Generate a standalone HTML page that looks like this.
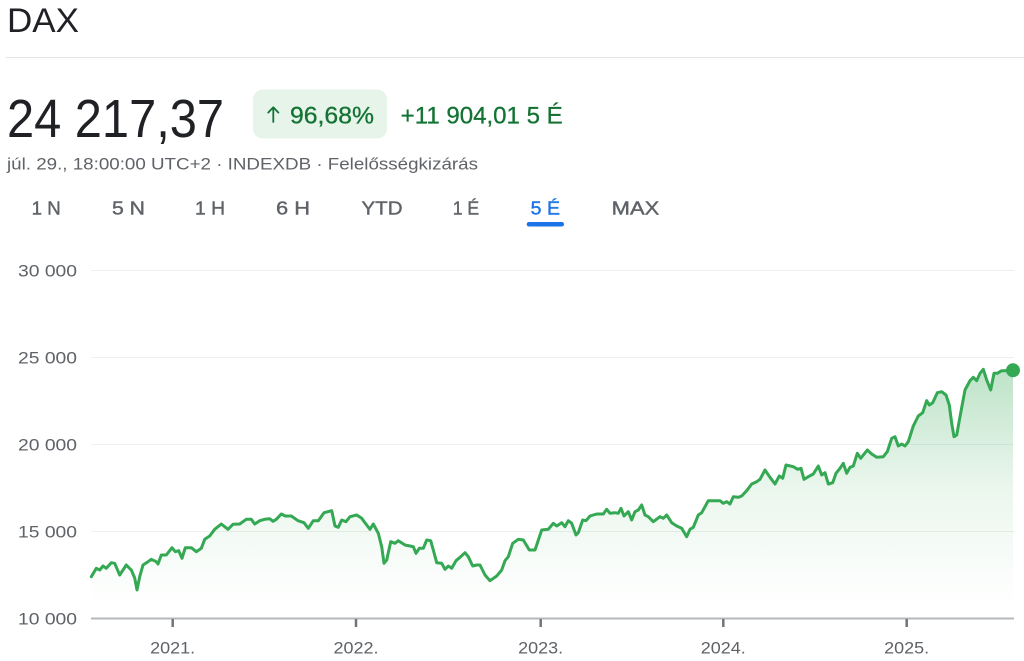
<!DOCTYPE html>
<html>
<head>
<meta charset="utf-8">
<style>
  html,body{margin:0;padding:0;background:#fff;}
  body{width:1024px;height:661px;overflow:hidden;}
  svg{display:block;font-family:"Liberation Sans","DejaVu Sans",sans-serif;}
</style>
</head>
<body>
<svg width="1024" height="661" viewBox="0 0 1024 661" xmlns="http://www.w3.org/2000/svg">
  <defs>
    <linearGradient id="fillg" x1="0" y1="370" x2="0" y2="605" gradientUnits="userSpaceOnUse">
      <stop offset="0" stop-color="#34a853" stop-opacity="0.32"/>
      <stop offset="0.5" stop-color="#34a853" stop-opacity="0.1"/>
      <stop offset="1" stop-color="#34a853" stop-opacity="0"/>
    </linearGradient>
  </defs>

  <!-- Header -->
  <text x="7" y="32" font-size="34" fill="#202124" textLength="72" lengthAdjust="spacingAndGlyphs">DAX</text>
  <line x1="6" y1="57.5" x2="1024" y2="57.5" stroke="#e3e5e8" stroke-width="1"/>

  <text x="7" y="137" font-size="54" fill="#202124" textLength="217" lengthAdjust="spacingAndGlyphs">24 217,37</text>

  <rect x="253" y="89.5" width="134" height="49" rx="10" fill="#e6f4ea"/>
  <path d="M273.3,122 V107.5 M268.2,112.6 L273.3,107.3 L278.4,112.6" stroke="#137333" stroke-width="1.8" fill="none" stroke-linecap="round" stroke-linejoin="round"/>
  <text x="290" y="123.3" font-size="24" fill="#137333" stroke="#137333" stroke-width="0.3" textLength="84" lengthAdjust="spacingAndGlyphs">96,68%</text>
  <text x="400.7" y="123.3" font-size="24" fill="#137333" stroke="#137333" stroke-width="0.3" textLength="162" lengthAdjust="spacingAndGlyphs">+11 904,01 5 É</text>

  <text x="7" y="169.3" font-size="17" fill="#5f6368" textLength="471" lengthAdjust="spacingAndGlyphs">júl. 29., 18:00:00 UTC+2 · INDEXDB · Felelősségkizárás</text>

  <!-- Tabs -->
  <g font-size="18.5" fill="#5f6368" stroke="#5f6368" stroke-width="0.4">
    <text x="31.7" y="214.5" textLength="29" lengthAdjust="spacingAndGlyphs">1 N</text>
    <text x="112" y="214.5" textLength="33" lengthAdjust="spacingAndGlyphs">5 N</text>
    <text x="195" y="214.5" textLength="30" lengthAdjust="spacingAndGlyphs">1 H</text>
    <text x="276" y="214.5" textLength="34" lengthAdjust="spacingAndGlyphs">6 H</text>
    <text x="361.5" y="214.5" textLength="41" lengthAdjust="spacingAndGlyphs">YTD</text>
    <text x="452.7" y="214.5" textLength="26.5" lengthAdjust="spacingAndGlyphs">1 É</text>
    <text x="611.7" y="214.5" textLength="47.6" lengthAdjust="spacingAndGlyphs">MAX</text>
  </g>
  <text x="530.7" y="214.5" font-size="18.5" fill="#1a73e8" stroke="#1a73e8" stroke-width="0.4" textLength="29.3" lengthAdjust="spacingAndGlyphs">5 É</text>
  <rect x="526.7" y="222" width="37.3" height="4.5" rx="2.2" fill="#1a73e8"/>

  <!-- Gridlines -->
  <g stroke="#eeeff1" stroke-width="1">
    <line x1="91" y1="270.5" x2="1014" y2="270.5"/>
    <line x1="91" y1="357.5" x2="1014" y2="357.5"/>
    <line x1="91" y1="444.5" x2="1014" y2="444.5"/>
    <line x1="91" y1="531.5" x2="1014" y2="531.5"/>
  </g>

  <!-- Y labels -->
  <g font-size="16.5" fill="#5f6368">
    <text x="18" y="276.7" textLength="59" lengthAdjust="spacingAndGlyphs">30 000</text>
    <text x="18" y="363.7" textLength="59" lengthAdjust="spacingAndGlyphs">25 000</text>
    <text x="18" y="450.7" textLength="59" lengthAdjust="spacingAndGlyphs">20 000</text>
    <text x="18" y="537.7" textLength="59" lengthAdjust="spacingAndGlyphs">15 000</text>
    <text x="18" y="624.3" textLength="59" lengthAdjust="spacingAndGlyphs">10 000</text>
  </g>

  <!-- Area fill -->
  <path fill="url(#fillg)" stroke="none" d="M91.3,576.7 L96.3,568.3 L99.7,570 L103,566 L106.3,568.3 L111.3,562.7 L114.7,563.3 L119.7,575 L126.3,565 L131.3,570 L134.7,578 L137,590 L139.7,576.7 L143,565 L148,561.7 L151.3,559.3 L156.3,561.7 L158,564 L161.3,555 L166.3,555 L172,547.7 L175.3,551.7 L178.7,550.7 L182,558.3 L185.3,547.7 L191.3,547.7 L196.3,551.7 L201.3,548.3 L204.7,539.3 L209.7,536 L214.7,529.3 L221.3,524 L228,529.3 L233,524.3 L239.7,524 L246.3,519.3 L251.3,519.3 L254.7,524 L259.7,520.7 L264.7,519.3 L269.7,518.7 L273,521.3 L276.3,519.3 L281.3,514 L285.3,516 L291.3,516 L298,520.7 L304,522.7 L308.3,528.3 L313.3,520.7 L318.3,520.7 L324,512.7 L331.7,510.7 L335,526 L338.3,527.3 L341.7,520 L346,521.7 L350,516.7 L356.7,515 L361.7,518.3 L366.7,525 L370,529.3 L373.3,524 L378.3,533.3 L381.7,546.7 L384,563.3 L386.7,560 L390.7,541.7 L395,543.3 L398.3,540.7 L405,545 L410,546 L413.3,546.7 L416,553.3 L419.3,548.3 L423.3,548.3 L426.7,540 L430.7,540.7 L433.3,550 L436.7,562.7 L441.7,563.3 L445,569.3 L448.3,566 L451.7,568.3 L456,560.7 L460,557.3 L465,552.7 L468.3,556.7 L472.7,566 L476.7,565 L480,565 L485,575 L490,580.7 L496.7,576 L501.7,570 L505,560.7 L508.3,556.7 L512.7,543.3 L518.3,539.3 L523.3,540 L529.3,550 L535,550 L541.7,530 L548.3,529.3 L553.3,523.3 L556.7,526 L561.7,522.7 L565,526.7 L568.3,520.7 L571.7,523.3 L576,535 L578.3,532.7 L582.7,520 L586,520.7 L590,516 L596.7,514 L603.3,514 L606.7,509.3 L610,513.3 L615,512.7 L618.3,513.3 L621,508.3 L624,516 L628.3,511.7 L631.7,520 L635,511.7 L638.3,510 L641.7,505 L645,515 L648.3,516.7 L653.3,521.7 L660,516.7 L663.3,518.3 L666.7,515 L671.7,522.7 L676.7,526 L681.7,528.3 L686.7,536.7 L690,529.3 L693.3,527.3 L698.3,515 L701.7,512.7 L708.3,500.7 L715,500.7 L720,500.7 L723.3,503.3 L726.7,501.7 L730,504 L733.3,496.7 L738.3,497.3 L741.7,496 L746.7,490.7 L751.7,484 L756.7,481.7 L760,479.3 L765,470 L770,477.3 L775,484 L779.3,476 L782.7,478.3 L786,465 L793.3,466.7 L797.7,469.3 L801,468.3 L804,479.3 L808.3,476.7 L813.3,474 L818.3,466 L821.7,475 L825,472.7 L828.3,484 L832.7,482.7 L836,473.3 L840,468.3 L843.3,463.3 L846.7,473.3 L850,467.3 L853.3,466 L857.3,453.3 L860.7,458.3 L867.3,450 L871.7,454 L876.7,457.3 L883.3,456.7 L887.3,451.7 L891.7,438.3 L895,436.7 L898.3,446 L901.7,444 L905,446 L908.3,441.7 L913.3,426 L918.3,416 L922.7,412.7 L926.7,400.7 L929.3,405 L932.7,402.7 L937.3,392.7 L941.7,391.7 L946,395 L949.3,405 L951.7,423.3 L954,436.7 L956.7,435 L960,416.7 L965,390 L970,380.7 L973.3,377.3 L976.7,380.7 L980,373.3 L983.3,369.3 L986.7,380 L990.7,390 L994,373.3 L997.3,373.3 L1001.7,370.7 L1005,370.7 L1013,370 L1013,618 L91.3,618 Z"/>

  <!-- Axis -->
  <line x1="91" y1="618.5" x2="1014" y2="618.5" stroke="#b4b8bd" stroke-width="2"/>
  <g stroke="#70757a" stroke-width="2.5">
    <line x1="172.7" y1="619" x2="172.7" y2="627"/>
    <line x1="356" y1="619" x2="356" y2="627"/>
    <line x1="540.7" y1="619" x2="540.7" y2="627"/>
    <line x1="723.3" y1="619" x2="723.3" y2="627"/>
    <line x1="906.7" y1="619" x2="906.7" y2="627"/>
  </g>
  <g font-size="16.5" fill="#5f6368">
    <text x="150.2" y="653.3" textLength="45" lengthAdjust="spacingAndGlyphs">2021.</text>
    <text x="333.5" y="653.3" textLength="45" lengthAdjust="spacingAndGlyphs">2022.</text>
    <text x="518.2" y="653.3" textLength="45" lengthAdjust="spacingAndGlyphs">2023.</text>
    <text x="700.8" y="653.3" textLength="45" lengthAdjust="spacingAndGlyphs">2024.</text>
    <text x="884.2" y="653.3" textLength="45" lengthAdjust="spacingAndGlyphs">2025.</text>
  </g>

  <!-- Line -->
  <path fill="none" stroke="#34a853" stroke-width="3" stroke-linejoin="round" stroke-linecap="round" d="M91.3,576.7 L96.3,568.3 L99.7,570 L103,566 L106.3,568.3 L111.3,562.7 L114.7,563.3 L119.7,575 L126.3,565 L131.3,570 L134.7,578 L137,590 L139.7,576.7 L143,565 L148,561.7 L151.3,559.3 L156.3,561.7 L158,564 L161.3,555 L166.3,555 L172,547.7 L175.3,551.7 L178.7,550.7 L182,558.3 L185.3,547.7 L191.3,547.7 L196.3,551.7 L201.3,548.3 L204.7,539.3 L209.7,536 L214.7,529.3 L221.3,524 L228,529.3 L233,524.3 L239.7,524 L246.3,519.3 L251.3,519.3 L254.7,524 L259.7,520.7 L264.7,519.3 L269.7,518.7 L273,521.3 L276.3,519.3 L281.3,514 L285.3,516 L291.3,516 L298,520.7 L304,522.7 L308.3,528.3 L313.3,520.7 L318.3,520.7 L324,512.7 L331.7,510.7 L335,526 L338.3,527.3 L341.7,520 L346,521.7 L350,516.7 L356.7,515 L361.7,518.3 L366.7,525 L370,529.3 L373.3,524 L378.3,533.3 L381.7,546.7 L384,563.3 L386.7,560 L390.7,541.7 L395,543.3 L398.3,540.7 L405,545 L410,546 L413.3,546.7 L416,553.3 L419.3,548.3 L423.3,548.3 L426.7,540 L430.7,540.7 L433.3,550 L436.7,562.7 L441.7,563.3 L445,569.3 L448.3,566 L451.7,568.3 L456,560.7 L460,557.3 L465,552.7 L468.3,556.7 L472.7,566 L476.7,565 L480,565 L485,575 L490,580.7 L496.7,576 L501.7,570 L505,560.7 L508.3,556.7 L512.7,543.3 L518.3,539.3 L523.3,540 L529.3,550 L535,550 L541.7,530 L548.3,529.3 L553.3,523.3 L556.7,526 L561.7,522.7 L565,526.7 L568.3,520.7 L571.7,523.3 L576,535 L578.3,532.7 L582.7,520 L586,520.7 L590,516 L596.7,514 L603.3,514 L606.7,509.3 L610,513.3 L615,512.7 L618.3,513.3 L621,508.3 L624,516 L628.3,511.7 L631.7,520 L635,511.7 L638.3,510 L641.7,505 L645,515 L648.3,516.7 L653.3,521.7 L660,516.7 L663.3,518.3 L666.7,515 L671.7,522.7 L676.7,526 L681.7,528.3 L686.7,536.7 L690,529.3 L693.3,527.3 L698.3,515 L701.7,512.7 L708.3,500.7 L715,500.7 L720,500.7 L723.3,503.3 L726.7,501.7 L730,504 L733.3,496.7 L738.3,497.3 L741.7,496 L746.7,490.7 L751.7,484 L756.7,481.7 L760,479.3 L765,470 L770,477.3 L775,484 L779.3,476 L782.7,478.3 L786,465 L793.3,466.7 L797.7,469.3 L801,468.3 L804,479.3 L808.3,476.7 L813.3,474 L818.3,466 L821.7,475 L825,472.7 L828.3,484 L832.7,482.7 L836,473.3 L840,468.3 L843.3,463.3 L846.7,473.3 L850,467.3 L853.3,466 L857.3,453.3 L860.7,458.3 L867.3,450 L871.7,454 L876.7,457.3 L883.3,456.7 L887.3,451.7 L891.7,438.3 L895,436.7 L898.3,446 L901.7,444 L905,446 L908.3,441.7 L913.3,426 L918.3,416 L922.7,412.7 L926.7,400.7 L929.3,405 L932.7,402.7 L937.3,392.7 L941.7,391.7 L946,395 L949.3,405 L951.7,423.3 L954,436.7 L956.7,435 L960,416.7 L965,390 L970,380.7 L973.3,377.3 L976.7,380.7 L980,373.3 L983.3,369.3 L986.7,380 L990.7,390 L994,373.3 L997.3,373.3 L1001.7,370.7 L1005,370.7 L1013,370"/>
  <circle cx="1013" cy="370.3" r="7" fill="#34a853"/>
</svg>
</body>
</html>
